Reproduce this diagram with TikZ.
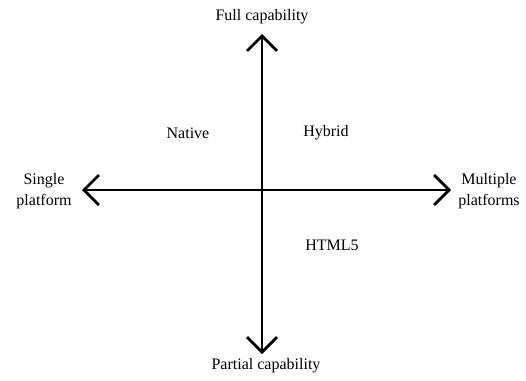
\documentclass[tikz,border=0pt]{standalone}
\usepackage{fontspec}
\setmainfont{Liberation Serif}
\usetikzlibrary{arrows.meta}
\begin{document}
\begin{tikzpicture}[x=1pt,y=-1pt,
  lbl/.style={font=\fontsize{16}{21}\selectfont, align=center, inner sep=0pt},
  axis/.style={line width=2.8pt, {Straight Barb[length=15pt,width=30pt]}-{Straight Barb[length=15pt,width=30pt]}}]
  \useasboundingbox (0,0) rectangle (526,380);
  % axis end points
  \coordinate (top) at (262,34);
  \coordinate (bottom) at (262,354);
  \coordinate (left) at (82,190);
  \coordinate (right) at (451,190);
  \draw[axis] (bottom) -- (top);
  \draw[axis] (left) -- (right);
  % axis labels
  \node[lbl] (full) at (262,17) {Full capability};
  \node[lbl] (partial) at (266,366) {Partial capability};
  \node[lbl] (single) at (44,191) {Single\\platform};
  \node[lbl] (multiple) at (489,191) {Multiple\\platforms};
  % quadrant labels
  \node[lbl] (native) at (188,133) {Native};
  \node[lbl] (hybrid) at (326,133) {Hybrid};
  \node[lbl] (html) at (332,245) {HTML5};
\end{tikzpicture}
\end{document}
